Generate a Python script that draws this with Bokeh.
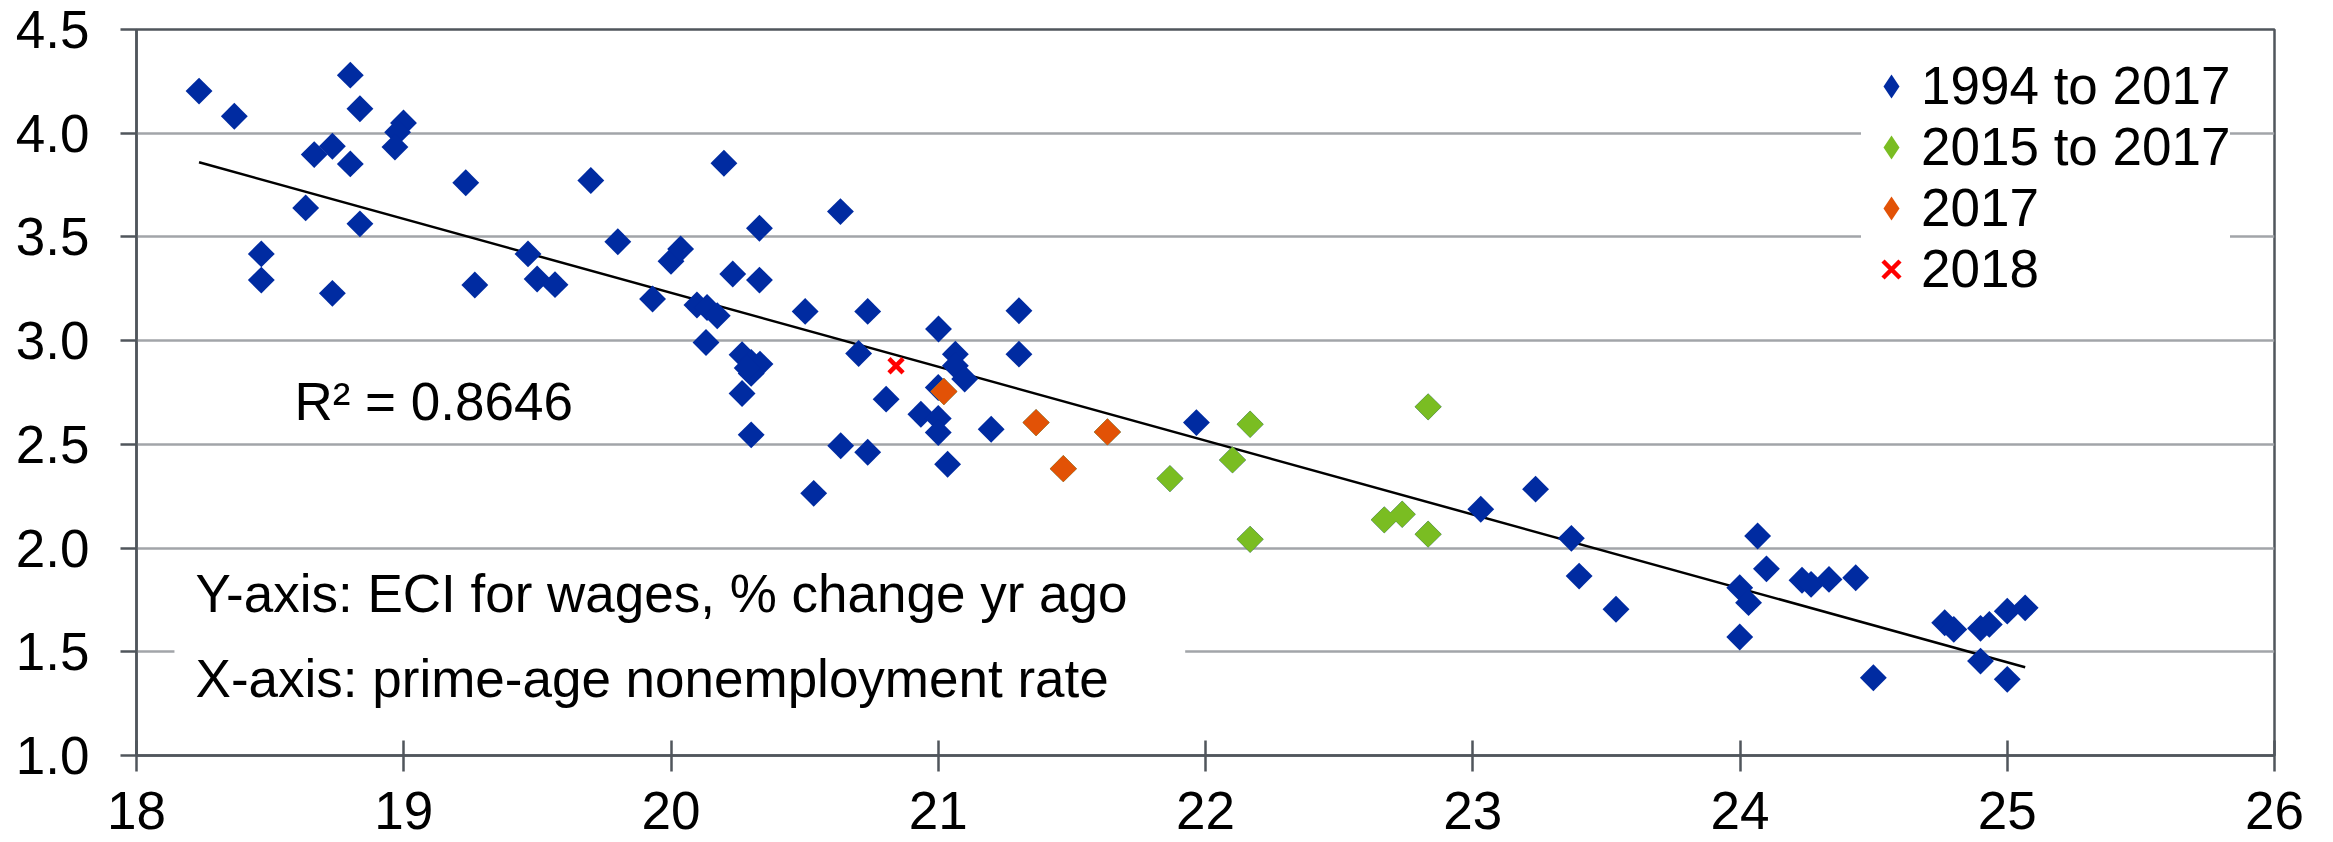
import numpy as np
from bokeh.plotting import figure
from bokeh.models import (Range1d, FixedTicker, Legend, LegendItem, Label,
                          BoxAnnotation, NumeralTickFormatter)
from bokeh.embed import file_html
from bokeh.resources import INLINE

# ---------------- data ----------------
# 1994-2014 points (blue only)
hist_x = [18.234, 18.366, 18.80, 18.836, 18.999, 18.977, 18.967, 18.665, 18.733, 18.80,
          18.633, 18.836, 18.467, 18.467, 18.733, 19.232, 19.266, 19.70, 19.465, 19.499,
          19.566, 19.801, 19.931, 20.0, 20.036, 20.198, 20.331, 20.231, 20.331, 20.097,
          20.135, 20.173, 20.131, 20.634, 20.502, 20.736, 21.302, 21.001, 20.702, 20.266,
          20.30, 20.333, 20.30, 20.266, 21.302, 21.064, 21.064, 21.099, 21.0, 20.805,
          20.935, 21.0, 21.0, 21.198, 20.30, 20.635, 20.736, 20.534, 21.035, 21.966,
          23.03, 23.235, 23.369, 23.398, 23.536, 24.066, 24.099, 23.999, 24.032, 23.999,
          24.232, 24.266, 24.333, 24.433, 24.499, 24.766, 24.80, 24.90, 24.933, 25.0,
          25.067, 24.90, 25.0, 20.285]
hist_y = [4.203, 4.082, 4.28, 4.118, 4.049, 4.005, 3.933, 3.897, 3.937, 3.852,
          3.64, 3.563, 3.418, 3.292, 3.228, 3.761, 3.268, 3.772, 3.418, 3.297,
          3.27, 3.477, 3.201, 3.383, 3.442, 3.855, 3.542, 3.321, 3.292, 3.172,
          3.16, 3.12, 2.991, 3.622, 3.141, 3.141, 3.144, 3.056, 2.938, 2.932,
          2.895, 2.887, 2.842, 2.745, 2.935, 2.935, 2.879, 2.815, 2.774, 2.718,
          2.645, 2.625, 2.557, 2.573, 2.546, 2.493, 2.462, 2.264, 2.404, 2.605,
          2.187, 2.284, 2.047, 1.865, 1.705, 2.058, 1.90, 1.809, 1.737, 1.571,
          1.845, 1.825, 1.849, 1.857, 1.375, 1.64, 1.608, 1.613, 1.632, 1.696,
          1.712, 1.455, 1.367, 2.868]
# 2015-2016 points
y1516_x = [22.833, 21.867, 22.101, 22.167, 22.167, 22.669, 22.736, 22.833]
y1516_y = [2.681, 2.335, 2.425, 2.597, 2.042, 2.136, 2.163, 2.067]
# 2017 points
y2017_x = [21.021, 21.366, 21.633, 21.468]
y2017_y = [2.755, 2.605, 2.56, 2.383]
# 2018
y2018_x = [20.842]
y2018_y = [2.879]

series_names = ["1994 to 2017", "2015 to 2017", "2017", "2018"]
x_ticks = [18, 19, 20, 21, 22, 23, 24, 25, 26]
y_ticks = [1.0, 1.5, 2.0, 2.5, 3.0, 3.5, 4.0, 4.5]
r2_text = "R\u00b2 = 0.8646"
note_lines = ["Y-axis: ECI for wages, % change yr ago",
              "X-axis: prime-age nonemployment rate"]

# series composition
all_x = hist_x + y1516_x + y2017_x
all_y = hist_y + y1516_y + y2017_y
s1517_x = y1516_x + y2017_x
s1517_y = y1516_y + y2017_y

# linear trend for the 1994-2017 series
slope, intercept = np.polyfit(all_x, all_y, 1)
tx = [min(all_x), max(all_x)]
ty = [slope * v + intercept for v in tx]

# ---------------- styling ----------------
FONT = "Liberation Sans"
FS = "53px"
AXC = "#50565c"
GRIDC = "#a2a5a9"
BLUE = "#002ba1"
GREEN = "#7abd22"
ORANGE = "#e25206"
RED = "#ff0000"

p = figure(frame_width=2138, frame_height=726,
           min_border_left=136, min_border_top=29, min_border_right=40, min_border_bottom=87,
           x_range=Range1d(18, 26), y_range=Range1d(1, 4.5),
           output_backend="svg", toolbar_location=None)
p.background_fill_color = "white"
p.border_fill_color = "white"
p.outline_line_color = AXC
p.outline_line_width = 2.5

p.xgrid.visible = False
p.ygrid.grid_line_color = GRIDC
p.ygrid.grid_line_width = 2.5

p.xaxis.ticker = FixedTicker(ticks=x_ticks)
p.yaxis.ticker = FixedTicker(ticks=y_ticks)
p.yaxis.formatter = NumeralTickFormatter(format="0.0")
for ax in (p.xaxis, p.yaxis):
    ax.axis_line_color = AXC
    ax.axis_line_width = 2.5
    ax.major_tick_line_color = AXC
    ax.major_tick_line_width = 2.5
    ax.minor_tick_line_color = None
    ax.major_label_text_font = FONT
    ax.major_label_text_font_size = FS
    ax.major_label_text_color = "black"
p.xaxis.major_tick_in = 15
p.xaxis.major_tick_out = 16
p.xaxis.major_label_standoff = 20
p.yaxis.major_tick_in = 0
p.yaxis.major_tick_out = 16
p.yaxis.major_label_standoff = 31

# note box (white background behind axis descriptions)
p.add_layout(BoxAnnotation(left=18.142, right=21.924, bottom=1.17, top=1.95,
                           fill_color="white", fill_alpha=1, line_color=None))

# trend line
p.line(tx, ty, line_color="black", line_width=2.5)

MS = 19
ANG = np.pi / 4
r1 = p.scatter(all_x, all_y, marker="square", size=MS, angle=ANG,
               fill_color=BLUE, line_color=None)
r2 = p.scatter(s1517_x, s1517_y, marker="square", size=MS, angle=ANG,
               fill_color=GREEN, line_color=None)
r3 = p.scatter(y2017_x, y2017_y, marker="square", size=MS, angle=ANG,
               fill_color=ORANGE, line_color=None)
r4 = p.scatter(y2018_x, y2018_y, marker="x", size=20, line_color=RED, line_width=4.5)

# legend swatches (diamond shapes; the legend does not rotate markers)
nan = [float("nan")]
l1 = p.scatter(nan, nan, marker="diamond", fill_color=BLUE, line_color=None)
l2 = p.scatter(nan, nan, marker="diamond", fill_color=GREEN, line_color=None)
l3 = p.scatter(nan, nan, marker="diamond", fill_color=ORANGE, line_color=None)

legend = Legend(items=[LegendItem(label=series_names[0], renderers=[l1]),
                       LegendItem(label=series_names[1], renderers=[l2]),
                       LegendItem(label=series_names[2], renderers=[l3]),
                       LegendItem(label=series_names[3], renderers=[r4])],
                location=(1725, 456),
                label_text_font=FONT, label_text_font_size=FS, label_text_color="black",
                glyph_width=60, glyph_height=60, label_standoff=0, spacing=0, padding=0,
                margin=0, border_line_color=None,
                background_fill_color="white", background_fill_alpha=1)
p.add_layout(legend)

p.add_layout(Label(x=18.591, y=2.709, text=r2_text, text_baseline="alphabetic",
                   text_font=FONT, text_font_size=FS, text_color="black"))
p.add_layout(Label(x=18.221, y=1.780, text=note_lines[0], text_baseline="alphabetic",
                   text_font=FONT, text_font_size=FS, text_color="black"))
p.add_layout(Label(x=18.221, y=1.373, text=note_lines[1], text_baseline="alphabetic",
                   text_font=FONT, text_font_size=FS, text_color="black"))

open("out.html", "w").write(file_html(p, INLINE))
